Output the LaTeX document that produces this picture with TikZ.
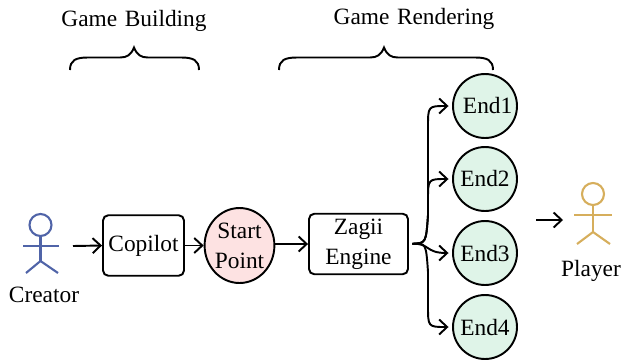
\documentclass[tikz,border=0pt]{standalone}
\usepackage{fontspec}
\setmainfont{Liberation Serif}
\usetikzlibrary{arrows.meta,positioning,shapes.geometric}
\definecolor{creatorblue}{HTML}{5064A8}
\definecolor{playergold}{HTML}{D6AE5C}
\definecolor{startpink}{HTML}{FDE2E2}
\definecolor{endgreen}{HTML}{DFF4E8}
\tikzset{
  boxnode/.style={draw, rounded corners=3pt, line width=1.1pt, align=center, inner sep=0pt, minimum height=1.21cm},
  startnode/.style={draw, ellipse, line width=1.1pt, fill=startpink, minimum width=1.34cm, minimum height=1.5cm, inner sep=0pt, align=center},
  endnode/.style={draw, circle, line width=1.1pt, fill=endgreen, minimum size=1.28cm, inner sep=0pt},
  plainlabel/.style={inner sep=0pt},
  flow/.style={->, line width=1.1pt},
  fanflow/.style={flow, shorten <=2pt, shorten >=2pt},
  groupbrace/.style={line width=1.1pt},
  actorline/.style={line width=1.2pt},
}
% left end, tip and right end of a brace
\newcommand{\groupbracepath}[3]{
  \draw[groupbrace] (#1,70) .. controls (#1,60) and (#1+6,57.5) .. (#1+18,57.5)
    -- (#2-14,57.5) .. controls (#2-7,57.5) and (#2-3,55) .. (#2,47.5)
    .. controls (#2+3,55) and (#2+7,57.5) .. (#2+14,57.5)
    -- (#3-18,57.5) .. controls (#3-6,57.5) and (#3,60) .. (#3,70);
}
\begin{document}
\begin{tikzpicture}[x=0.02cm, y=-0.02cm, >={Straight Barb[length=1.6mm,width=3mm]}, font=\fontsize{13.3}{16}\selectfont]
\useasboundingbox (0,0) rectangle (621,362);
% top labels and braces
\node[plainlabel] (building) at (134,21) {Game\hspace{1pt} Building};
\node[plainlabel] (rendering) at (414,19) {Game\hspace{1pt} Rendering};
\groupbracepath{70}{134}{199}
\groupbracepath{279}{384}{493}
% creator
\begin{scope}[creatorblue, actorline]
\draw (40.5,225) circle (0.22cm);
\draw (40.5,236) -- (40.5,261) coordinate (creatorhip);
\draw (23,246) -- (59,246);
\draw (26,273) -- (creatorhip) -- (58,273);
\end{scope}
\node[plainlabel] (creator) at (44,295) {Creator};
\coordinate (creatorout) at (73,246);
% main row
\node[boxnode, minimum width=1.62cm] (copilot) at (143.5,245.5) {Copilot};
\node[startnode] (start) at (239.5,245.5) {Start\\[1pt]Point};
\node[boxnode, minimum width=1.98cm] (zagii) at (358.5,244) {Zagii\\[1pt]Engine};
% endings
\node[endnode] (end1) at (485,106) {\hspace*{3pt}End1};
\node[endnode] (end2) at (485,179) {End2};
\node[endnode] (end3) at (485,253) {End3};
\node[endnode] (end4) at (485,327) {End4};
% player
\begin{scope}[playergold, actorline]
\draw (593,194) circle (0.22cm);
\draw (593,205) -- (593,232) coordinate (playerhip);
\draw (574,215) -- (612,215);
\draw (577,244) -- (playerhip) -- (610,244);
\end{scope}
\node[plainlabel] (player) at (591,271) {Player};
\coordinate (playerin) at (563,220);
\coordinate (endout) at (536,220);
% connectors
\draw[flow] (creatorout) -- (copilot.west);
\draw[flow] (copilot.east) -- (start.west);
\draw[flow] (start.east |- zagii.west) -- (zagii.west);
\draw[fanflow] (zagii.east) .. controls (426,243) .. (428,215) -- (428,127) .. controls (428,106) .. (end1.west);
\draw[fanflow] (zagii.east) .. controls (426,243) .. (428,215) -- (428,200) .. controls (428,179) .. (end2.west);
\draw[fanflow] (zagii.east) .. controls (430,243) and (425,253) .. (end3.west);
\draw[fanflow] (zagii.east) .. controls (426,243) .. (428,272) -- (428,306) .. controls (428,327) .. (end4.west);
\draw[flow] (endout) -- (playerin);
\end{tikzpicture}
\end{document}
